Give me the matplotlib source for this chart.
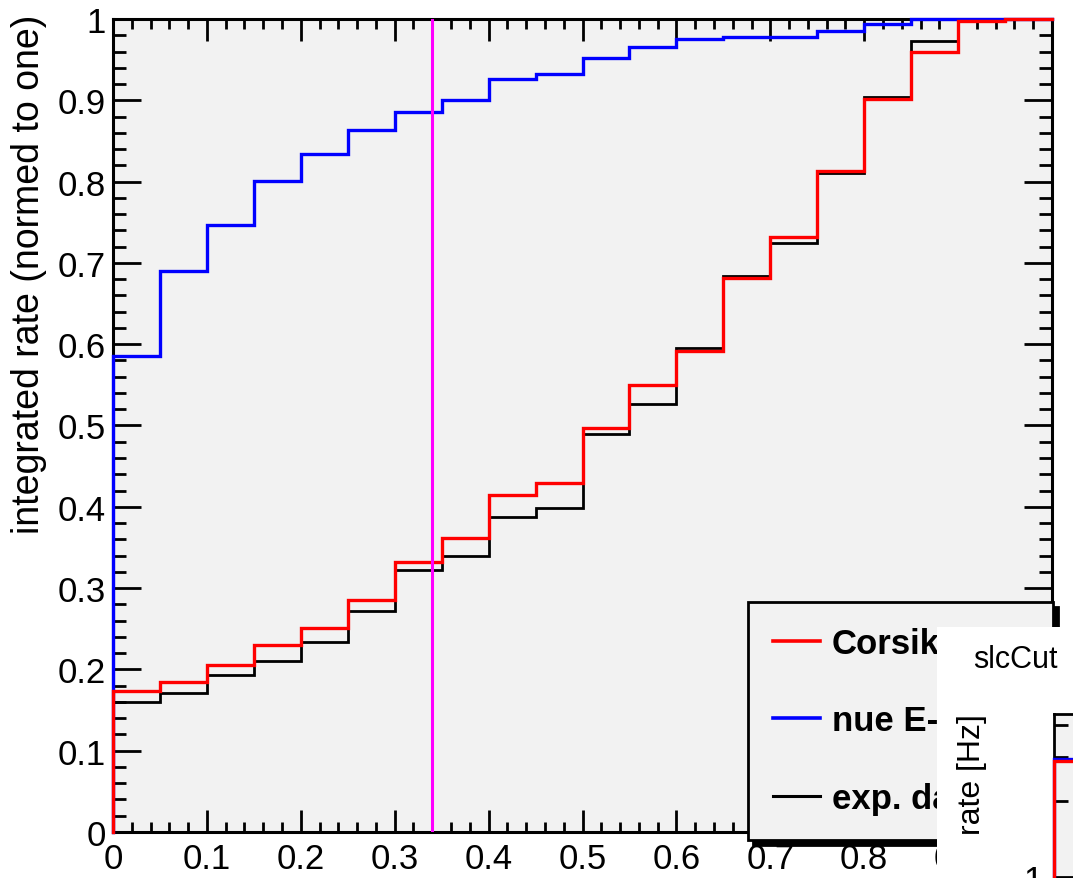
import numpy as np
import matplotlib
matplotlib.use('Agg')
import matplotlib.pyplot as plt
from matplotlib.lines import Line2D
from matplotlib.patches import Rectangle
from matplotlib.ticker import MultipleLocator, FixedLocator, FuncFormatter, NullFormatter

# fonts: narrow helvetica-like for numbers and legend, plain for titles
narrow = ['Liberation Sans Narrow', 'Liberation Sans', 'DejaVu Sans']
plain = ['Liberation Sans', 'DejaVu Sans']
plt.rcParams['font.family'] = narrow

# cumulative rate per bin of the cut variable
bin_edges = [0.0, 0.05, 0.1, 0.15, 0.2, 0.25, 0.3, 0.35, 0.4, 0.45, 0.5,
             0.55, 0.6, 0.65, 0.7, 0.75, 0.8, 0.85, 0.9, 0.95, 1.0]
corsika = [0.173, 0.184, 0.206, 0.230, 0.251, 0.285, 0.332, 0.362, 0.414, 0.429,
           0.497, 0.550, 0.592, 0.682, 0.732, 0.813, 0.902, 0.960, 0.998, 1.0]
nue_e2 = [0.585, 0.690, 0.747, 0.801, 0.834, 0.863, 0.885, 0.900, 0.926, 0.932,
          0.952, 0.965, 0.976, 0.978, 0.978, 0.985, 0.994, 1.0, 1.0, 1.0]
exp_data = [0.160, 0.171, 0.193, 0.210, 0.234, 0.272, 0.322, 0.340, 0.388, 0.399,
            0.489, 0.526, 0.595, 0.684, 0.724, 0.810, 0.904, 0.973, 0.998, 1.0]
labels = ['Corsika', 'nue E-2', 'exp. data']
cut_value = 0.34

# the slcCut rate canvas sitting on top in the lower right corner
slc_edges = [0.0, 1.0]
slc_corsika = [2.88]
slc_nue = [2.93]
slc_ylim = (0.473, 4.43)
slc_minor = [0.5, 0.6, 0.7, 0.8, 0.9, 2, 3, 4]

W, H = 1073, 879
fig = plt.figure(figsize=(W / 100, H / 100), dpi=100)


def px_box(left, top, right, bottom):
    # pixel box -> figure fraction [l, b, w, h]
    return [left / W, 1 - bottom / H, (right - left) / W, (bottom - top) / H]


def hist_line(ax, edges, values, base=0.0, **kw):
    # root-style histogram outline, rising from the baseline at the first edge
    xs = np.r_[edges[0], edges]
    ys = np.r_[base, values, values[-1]]
    return ax.step(xs, ys, where='post', clip_on=False, zorder=3,
                   solid_joinstyle='miter', **kw)


ax = fig.add_axes(px_box(113, 20, 1052, 833))
ax.set_facecolor('#f2f2f2')

hist_line(ax, bin_edges, nue_e2, color='#0000ff', lw=2.4)
hist_line(ax, bin_edges, exp_data, color='black', lw=2.0)
hist_line(ax, bin_edges, corsika, color='#ff0000', lw=2.4)
ax.axvline(cut_value, color='#ff00ff', lw=2.2, zorder=4)

ax.set_xlim(0, 1)
ax.set_ylim(0, 1)
fmt = FuncFormatter(lambda v, pos: '%g' % round(v, 2))
for axis in (ax.xaxis, ax.yaxis):
    axis.set_major_locator(MultipleLocator(0.1))
    axis.set_minor_locator(MultipleLocator(0.02))
    axis.set_major_formatter(fmt)

ax.tick_params(which='both', direction='in', top=True, right=True,
               width=2, labelsize=25)
ax.tick_params(axis='x', which='major', length=16, pad=7)
ax.tick_params(axis='x', which='minor', length=7.5)
ax.tick_params(axis='y', which='major', length=20, pad=5)
ax.tick_params(axis='y', which='minor', length=9.5)
for sp in ax.spines.values():
    sp.set_linewidth(2.2)

ax.set_ylabel('integrated rate (normed to one)', loc='top',
              family=plain, fontsize=27)
ax.yaxis.set_label_coords(-0.0703, 1.006)

handles = [Line2D([], [], color='#ff0000', lw=2.6),
           Line2D([], [], color='#0000ff', lw=2.6),
           Line2D([], [], color='black', lw=2.2)]
leg = ax.legend(handles, labels, loc='upper left',
                bbox_to_anchor=(748 / W, 1 - 603 / H, (1053 - 748) / W, 0.0),
                bbox_transform=fig.transFigure, mode='expand', borderaxespad=0,
                prop={'family': narrow, 'weight': 'bold', 'size': 25},
                handlelength=1.35, handletextpad=0.35, labelspacing=1.28,
                borderpad=0.72, fancybox=False, framealpha=1,
                facecolor='#f2f2f2', edgecolor='black',
                shadow={'color': 'black', 'alpha': 1, 'ox': 3.5, 'oy': -3.5})
leg.get_frame().set_linewidth(2)

# white canvas of the second plot
fig.add_artist(Rectangle((937 / W, 0), (W - 937) / W, 1 - 628 / H,
                         transform=fig.transFigure, facecolor='white',
                         edgecolor='none', zorder=5))

sax = fig.add_axes(px_box(1054, 715, 1210, 960))
sax.set_zorder(6)
sax.set_facecolor('#f2f2f2')
sax.set_yscale('log')
sax.set_xlim(slc_edges[0], slc_edges[-1])
sax.set_ylim(*slc_ylim)
hist_line(sax, slc_edges, slc_nue, base=slc_ylim[0], color='#0000ff', lw=2.4)
hist_line(sax, slc_edges, slc_corsika, base=slc_ylim[0], color='#ff0000', lw=2.4)
sax.yaxis.set_major_locator(FixedLocator([1]))
sax.yaxis.set_major_formatter(FuncFormatter(lambda v, pos: '%g' % v))
sax.yaxis.set_minor_locator(FixedLocator(slc_minor))
sax.yaxis.set_minor_formatter(NullFormatter())
sax.set_xticks([])
sax.tick_params(axis='y', which='both', direction='in', width=2,
                labelsize=25, pad=8)
sax.tick_params(axis='y', which='major', length=20)
sax.tick_params(axis='y', which='minor', length=10)
for sp in sax.spines.values():
    sp.set_linewidth(2)

fig.text(973 / W, 1 - 668 / H, 'slcCut', family=plain, fontsize=22,
         va='baseline', zorder=7)
fig.text(972 / W, 1 - 775 / H, 'rate [Hz]', family=plain, fontsize=23,
         rotation=90, ha='center', va='center', zorder=7)

fig.savefig('out.png', dpi=100)
